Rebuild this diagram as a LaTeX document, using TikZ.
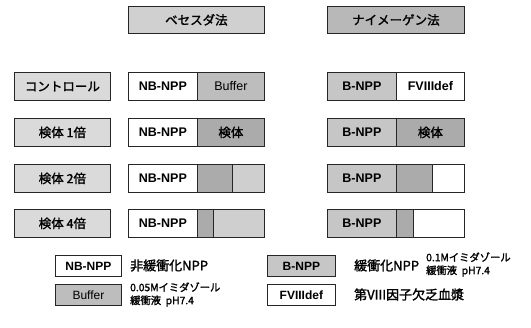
\documentclass[tikz,border=0pt]{standalone}
\usepackage{fontspec}
\setmainfont{Liberation Sans}
\newfontfamily\jp{Noto Sans CJK JP}[FakeBold=1.6]
\definecolor{hdrA}{HTML}{D0D0D0}
\definecolor{hdrB}{HTML}{B8B8B8}
\definecolor{lbl}{HTML}{DADADA}
\definecolor{buf}{HTML}{BDBDBD}
\definecolor{smp}{HTML}{ABABAB}
\definecolor{lite}{HTML}{CFCFCF}
\definecolor{bnpp}{HTML}{C6C6C6}
\begin{document}
\begin{tikzpicture}[x=1pt,y=-1pt,
  box/.style={draw=black!85, line width=0.8pt, inner sep=0pt, anchor=north west, minimum height=28pt, font=\fontsize{12.5}{14}\selectfont},
  sbox/.style={box, minimum height=21pt, minimum width=66pt, font=\fontsize{12}{14}\selectfont},
  txt/.style={anchor=west, inner sep=0pt, font=\jp\fontsize{13}{15}\selectfont},
  small/.style={anchor=west, inner sep=0pt, align=left, font=\jp\fontsize{10.3}{13}\selectfont}]
\useasboundingbox (0,0) rectangle (531,328);
% headers
\node[box, fill=hdrA, minimum width=136pt, minimum height=27pt] (hA) at (128,6) {\jp ベセスダ法};
\node[box, fill=hdrB, minimum width=137pt, minimum height=27pt] (hB) at (327,6) {\jp ナイメーゲン法};
% row labels
\node[box, fill=lbl, minimum width=96pt] (l1) at (14,72) {\jp コントロール};
\node[box, fill=lbl, minimum width=96pt] (l2) at (14,118) {\jp 検体 1倍};
\node[box, fill=lbl, minimum width=96pt] (l3) at (14,164) {\jp 検体 2倍};
\node[box, fill=lbl, minimum width=96pt] (l4) at (14,209) {\jp 検体 4倍};
% Bethesda
\node[box, fill=white, minimum width=69pt] (a1) at (128,72) {\bfseries NB-NPP};
\node[box, fill=buf, minimum width=67pt] (a1b) at (197,72) {Buffer};
\node[box, fill=white, minimum width=69pt] (a2) at (128,118) {\bfseries NB-NPP};
\node[box, fill=smp, minimum width=67pt] (a2b) at (197,118) {\jp 検体};
\node[box, fill=white, minimum width=69pt] (a3) at (128,164) {\bfseries NB-NPP};
\node[box, fill=smp, minimum width=35pt] (a3b) at (197,164) {};
\node[box, fill=lite, minimum width=32pt] (a3c) at (232,164) {};
\node[box, fill=white, minimum width=69pt] (a4) at (128,209) {\bfseries NB-NPP};
\node[box, fill=smp, minimum width=16pt] (a4b) at (197,209) {};
\node[box, fill=lite, minimum width=51pt] (a4c) at (213,209) {};
% Nijmegen
\node[box, fill=bnpp, minimum width=69pt] (b1) at (327,72) {\bfseries B-NPP};
\node[box, fill=white, minimum width=68pt] (b1b) at (396,72) {\bfseries FVIIIdef};
\node[box, fill=bnpp, minimum width=69pt] (b2) at (327,118) {\bfseries B-NPP};
\node[box, fill=smp, minimum width=68pt] (b2b) at (396,118) {\jp 検体};
\node[box, fill=bnpp, minimum width=69pt] (b3) at (327,164) {\bfseries B-NPP};
\node[box, fill=smp, minimum width=36pt] (b3b) at (396,164) {};
\node[box, fill=white, minimum width=32pt] (b3c) at (432,164) {};
\node[box, fill=bnpp, minimum width=69pt] (b4) at (327,209) {\bfseries B-NPP};
\node[box, fill=smp, minimum width=17pt] (b4b) at (396,209) {};
\node[box, fill=white, minimum width=51pt] (b4c) at (413,209) {};
% legend
\node[sbox, fill=white] (gNB) at (55,255) {\bfseries NB-NPP};
\node[txt] (tNB) at (130,265.5) {非緩衝化NPP};
\node[sbox, fill=buf] (gBuf) at (55,284) {Buffer};
\node[small] (tBuf) at (130,294.5) {0.05Mイミダゾール\\緩衝液\ \ pH7.4};
\node[sbox, fill=bnpp, minimum width=68pt] (gB) at (267,255) {\bfseries B-NPP};
\node[txt] (tB) at (354,265.5) {緩衝化NPP};
\node[small] (tB2) at (426,264.5) {0.1Mイミダゾール\\緩衝液\ \ pH7.4};
\node[sbox, fill=white, minimum width=68pt] (gF) at (267,284) {\bfseries FVIIIdef};
\node[txt] (tF) at (354,294.5) {第VIII因子欠乏血漿};
\end{tikzpicture}
\end{document}
